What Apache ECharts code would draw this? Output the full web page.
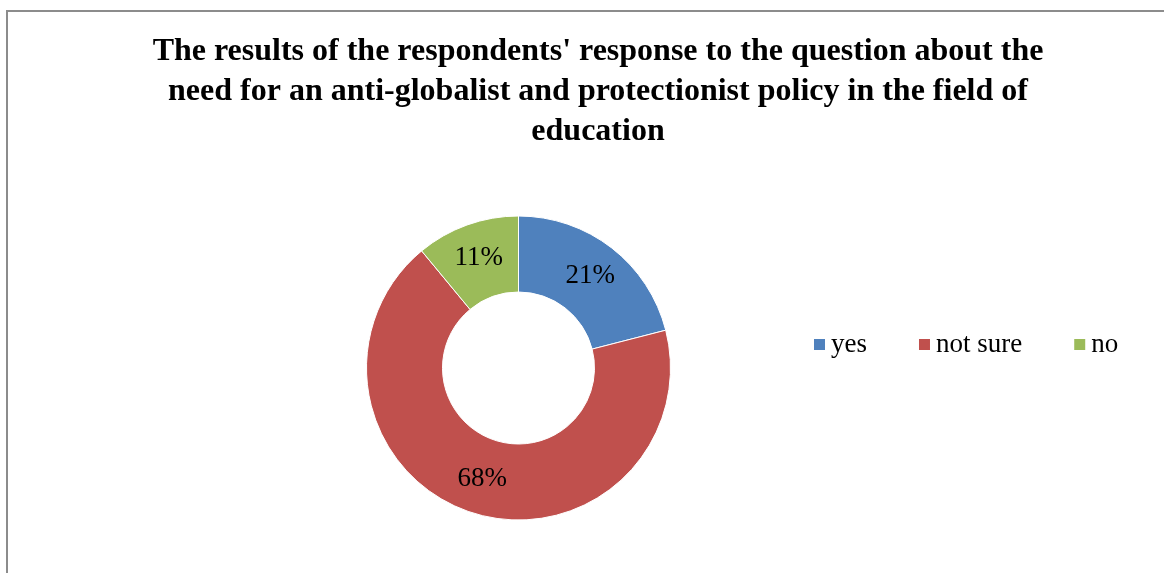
<!DOCTYPE html>
<html>
<head>
<meta charset="utf-8">
<script src="https://cdn.jsdelivr.net/npm/echarts@6/dist/echarts.min.js"></script>
<style>
  html, body { margin: 0; padding: 0; background: #fff; }
  #chart { width: 1164px; height: 573px; }
</style>
</head>
<body>
<div id="chart"></div>
<script>
var titleText = "The results of the respondents' response to the question about the\nneed for an anti-globalist and protectionist policy in the field of\neducation";
var categories = ['yes', 'not sure', 'no'];
var values = [21, 68, 11];
var colors = ['#4F81BD', '#C0504D', '#9BBB59'];

var chart = echarts.init(document.getElementById('chart'));

chart.setOption({
    animation: false,
    color: colors,
    graphic: [{
        type: 'rect',
        shape: { x: 7, y: 11, width: 1300, height: 700 },
        style: { fill: 'none', stroke: '#8c8c8c', lineWidth: 2 },
        silent: true
    }],
    title: {
        text: titleText,
        left: 593,
        top: 27,
        textAlign: 'center',
        textStyle: {
            fontFamily: 'Liberation Serif',
            fontWeight: 'bold',
            fontSize: 32,
            lineHeight: 40,
            color: '#000'
        }
    },
    legend: {
        data: categories,
        orient: 'horizontal',
        left: 807,
        top: 326,
        icon: 'rect',
        itemWidth: 13,
        itemHeight: 13,
        itemGap: 50,
        textStyle: {
            fontFamily: 'Liberation Serif',
            fontSize: 27,
            color: '#000'
        }
    },
    series: [{
        type: 'pie',
        center: [518.5, 368],
        radius: [76, 152],
        startAngle: 90,
        clockwise: true,
        itemStyle: { borderColor: '#fff', borderWidth: 1 },
        label: {
            position: 'inside',
            formatter: '{c}%',
            fontFamily: 'Liberation Serif',
            fontSize: 27,
            color: '#000'
        },
        labelLine: { show: false },
        data: categories.map(function (name, i) {
            return { name: name, value: values[i] };
        })
    }]
});
</script>
</body>
</html>
